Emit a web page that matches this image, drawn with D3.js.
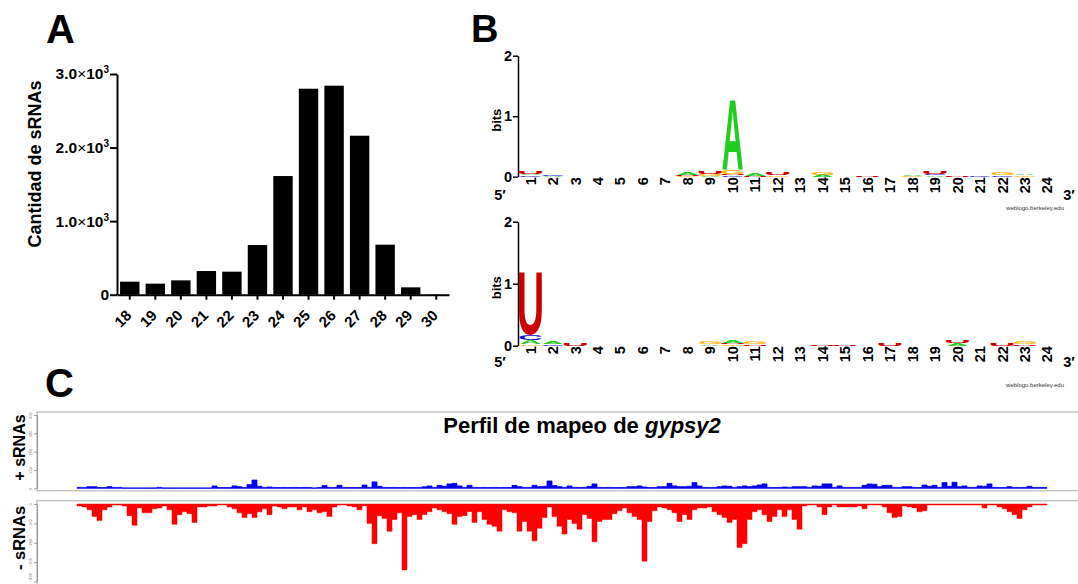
<!DOCTYPE html>
<html>
<head>
<meta charset="utf-8">
<script src="https://cdn.jsdelivr.net/npm/d3@7"></script>
<style>
  body { margin: 0; background: #fff; }
  svg { display: block; font-family: "Liberation Sans", Arial, sans-serif; }
</style>
</head>
<body>
<div id="chart"></div>
<script>
// ---- Panel A: read length distribution ----
const readLengths = ['18', '19', '20', '21', '22', '23', '24', '25', '26', '27', '28', '29', '30'];
const readCounts = [177, 150, 195, 322, 313, 675, 1613, 2800, 2841, 2161, 680, 100, 3];
const countTicks = [0, 1000, 2000, 3000];

// ---- Panel B: sequence logos (bits per base, positions 1..24) ----
const logoPositions = d3.range(1, 25);
const bases = ['A', 'C', 'G', 'U'];
const topBitsA = [0.03, 0.01, 0, 0, 0, 0, 0, 0.035, 0.01, 1.18, 0.035, 0, 0, 0.035, 0, 0, 0, 0.03, 0.02, 0, 0, 0, 0.03, 0];
const topBitsC = [0.02, 0.025, 0, 0, 0, 0, 0, 0, 0, 0.02, 0, 0, 0, 0, 0, 0, 0, 0, 0.02, 0, 0.02, 0.02, 0, 0];
const topBitsG = [0, 0, 0, 0, 0, 0, 0, 0.01, 0.035, 0.06, 0, 0.02, 0, 0.045, 0, 0, 0, 0.01, 0, 0, 0, 0.04, 0.02, 0];
const topBitsU = [0.05, 0, 0, 0, 0, 0, 0, 0.015, 0.04, 0.03, 0.015, 0.05, 0, 0, 0, 0.025, 0, 0, 0.05, 0.02, 0, 0, 0, 0];
const bottomBitsA = [0.06, 0.035, 0, 0, 0, 0, 0, 0, 0.02, 0.045, 0, 0, 0, 0, 0, 0, 0, 0, 0, 0.035, 0, 0, 0, 0];
const bottomBitsC = [0.08, 0.02, 0, 0, 0, 0, 0, 0, 0, 0, 0, 0, 0, 0, 0, 0, 0, 0, 0, 0, 0, 0, 0, 0];
const bottomBitsG = [0.03, 0, 0, 0, 0, 0, 0, 0, 0.045, 0.025, 0.04, 0, 0, 0, 0, 0, 0, 0, 0, 0, 0, 0, 0.045, 0];
const bottomBitsU = [1.05, 0, 0.035, 0, 0, 0, 0, 0, 0, 0.025, 0.03, 0, 0, 0.02, 0.02, 0, 0.045, 0, 0, 0.045, 0, 0.035, 0.02, 0];
const bitTicks = [0, 1, 2];

// ---- Panel C: mapping profile along gypsy2 (equal-width bins) ----
const plusCounts = [
  5, 5, 9, 9, 4, 4, 9, 5, 5, 2,
  2, 2, 2, 2, 2, 2, 5, 2, 2, 2,
  2, 2, 2, 2, 2, 2, 2, 13, 4, 4,
  4, 13, 9, 4, 20, 45, 11, 5, 7, 5,
  4, 5, 4, 5, 4, 5, 4, 2, 4, 15,
  5, 4, 16, 5, 4, 4, 4, 18, 5, 35,
  11, 5, 4, 5, 4, 5, 4, 4, 5, 8,
  13, 5, 16, 11, 24, 27, 13, 5, 16, 5,
  4, 5, 4, 5, 4, 5, 4, 16, 9, 5,
  5, 16, 9, 11, 40, 15, 9, 5, 13, 5,
  4, 5, 11, 24, 5, 4, 5, 4, 4, 5,
  9, 9, 13, 7, 4, 4, 9, 9, 27, 13,
  9, 9, 11, 31, 13, 5, 4, 5, 9, 13,
  11, 5, 9, 13, 9, 13, 18, 24, 5, 4,
  5, 7, 5, 9, 9, 9, 5, 13, 11, 24,
  24, 5, 13, 5, 4, 5, 5, 16, 24, 22,
  9, 16, 16, 5, 5, 9, 9, 5, 4, 18,
  11, 16, 5, 31, 11, 33, 9, 13, 5, 5,
  13, 11, 24, 5, 4, 5, 9, 5, 4, 5,
  11, 4, 4, 4
];
const minusCounts = [
  -10, -15, -30, -65, -85, -30, -15, -5, -5, -10,
  -60, -110, -20, -45, -45, -25, -20, -10, -30, -105,
  -55, -40, -50, -95, -15, -15, -10, -10, -5, -5,
  -15, -25, -45, -70, -50, -70, -40, -25, -55, -10,
  -15, -25, -15, -15, -30, -15, -40, -30, -45, -40,
  -65, -15, -5, -5, -10, -15, -30, -10, -100, -205,
  -60, -75, -140, -80, -45, -340, -65, -55, -80, -55,
  -40, -20, -30, -40, -50, -105, -65, -60, -40, -95,
  -40, -80, -105, -115, -140, -30, -40, -45, -140, -90,
  -140, -190, -125, -70, -15, -65, -115, -155, -80, -100,
  -130, -55, -75, -195, -90, -80, -80, -50, -35, -20,
  -45, -65, -80, -295, -90, -35, -15, -20, -30, -45,
  -90, -55, -80, -30, -20, -20, -15, -40, -55, -70,
  -95, -80, -225, -205, -80, -40, -30, -55, -90, -65,
  -30, -65, -30, -80, -130, -10, -5, -5, -15, -55,
  -15, -5, -15, -15, -15, -15, -10, -25, -5, -5,
  -5, -15, -45, -70, -65, -10, -15, -20, -40, -35,
  -5, -5, -5, -5, -5, -5, -5, -5, -5, -5,
  -5, -20, -5, -5, -15, -25, -40, -55, -75, -30,
  -15, -5, -5, -5
];
const plusTicks = [0, 100, 200, 300, 400];
const minusTicks = [0, -100, -200, -300, -400];

const baseColors = { A: '#22cc22', C: '#1515d0', G: '#ffb300', U: '#cc0000' };

const W = 1078, H = 584;
const svg = d3.select('#chart').append('svg')
    .attr('width', W)
    .attr('height', H);
svg.append('rect').attr('width', W).attr('height', H).attr('fill', '#fff');

// panel letters
svg.append('text').attr('x', 46).attr('y', 43).text('A')
    .attr('font-size', 40).attr('font-weight', 'bold');
svg.append('text').attr('x', 471).attr('y', 42).text('B')
    .attr('font-size', 38).attr('font-weight', 'bold');
svg.append('text').attr('x', 45).attr('y', 397).text('C')
    .attr('font-size', 40).attr('font-weight', 'bold');

// ================= Panel A =================
const xLen = d3.scaleBand()
    .domain(readLengths)
    .range([117, 449])
    .paddingInner(0.24)
    .paddingOuter(0.12);
const yLen = d3.scaleLinear().domain([0, 3000]).range([294.7, 74]);

const gA = svg.append('g');

gA.selectAll('rect.bar')
    .data(readCounts)
    .join('rect')
    .attr('class', 'bar')
    .attr('x', (d, i) => xLen(readLengths[i]))
    .attr('y', d => yLen(d))
    .attr('width', xLen.bandwidth())
    .attr('height', d => yLen(0) - yLen(d))
    .attr('fill', '#000');

const yAxA = gA.append('g')
    .attr('transform', 'translate(117,0)')
    .call(d3.axisLeft(yLen).tickValues(countTicks).tickSize(7).tickSizeOuter(0));
yAxA.selectAll('.domain, .tick line').attr('stroke', '#000').attr('stroke-width', 2);
yAxA.selectAll('.tick text').each(function (d) {
    const t = d3.select(this).text(null)
        .attr('x', -8)
        .attr('font-size', 15.5)
        .attr('font-weight', 'bold')
        .attr('fill', '#000')
        .attr('font-family', '"Liberation Sans", Arial, sans-serif');
    if (d === 0) {
        t.text('0');
        return;
    }
    t.append('tspan').text(d3.format('.1f')(d / 1000));
    t.append('tspan').text('\u00d7').attr('font-weight', 'normal');
    t.append('tspan').text('10');
    t.append('tspan').text('3').attr('font-size', 10).attr('dy', '-0.6em');
});

const xAxA = gA.append('g')
    .attr('transform', 'translate(0,294.7)')
    .call(d3.axisBottom(xLen).tickSize(5).tickSizeOuter(0));
xAxA.selectAll('.domain, .tick line').attr('stroke', '#000').attr('stroke-width', 2);
xAxA.selectAll('.tick text')
    .attr('x', 0)
    .attr('y', 0)
    .attr('dy', '0.35em')
    .attr('transform', 'translate(-1,18) rotate(-45)')
    .attr('text-anchor', 'end')
    .attr('font-size', 15)
    .attr('font-weight', 'bold')
    .attr('fill', '#000')
    .attr('font-family', '"Liberation Sans", Arial, sans-serif');

gA.append('text')
    .attr('transform', 'translate(41,164) rotate(-90)')
    .attr('text-anchor', 'middle')
    .attr('font-size', 18)
    .attr('font-weight', 'bold')
    .text('Cantidad de sRNAs');

// ================= Panel B =================
// ink boxes of the bold sans glyphs, in em: [xMin, xMax, yMin, yMax]
const glyphBox = {
    A: [0.0, 0.722, 0.0, 0.716],
    C: [0.045, 0.68, -0.012, 0.728],
    G: [0.045, 0.72, -0.012, 0.728],
    U: [0.073, 0.648, -0.012, 0.716]
};

function drawGlyph(g, base, x0, w, yTop, yBot) {
    const fs = 100;
    const [x1, x2, y1, y2] = glyphBox[base];
    const sx = w / ((x2 - x1) * fs);
    const sy = (yBot - yTop) / ((y2 - y1) * fs);
    g.append('text')
        .text(base)
        .attr('font-size', fs)
        .attr('font-weight', 'bold')
        .attr('fill', baseColors[base])
        .attr('transform', `translate(${x0 - x1 * fs * sx},${yBot + y1 * fs * sy}) scale(${sx},${sy})`);
}

function drawLogo(bits, yZero, yTwo, primeY, webY) {
    const g = svg.append('g');
    const xPos = d3.scaleBand().domain(logoPositions).range([518.8, 1058.8]).padding(0.03);
    const yBits = d3.scaleLinear().domain([0, 2]).range([yZero, yTwo]);

    const ax = g.append('g')
        .attr('transform', 'translate(518,0)')
        .call(d3.axisLeft(yBits).tickValues(bitTicks).tickFormat(d3.format('d')).tickSize(5).tickSizeOuter(0));
    ax.selectAll('.domain, .tick line').attr('stroke', '#000').attr('stroke-width', 1.5);
    ax.selectAll('.tick text')
        .attr('x', -6)
        .attr('font-size', 14.5)
        .attr('font-weight', 'bold')
        .attr('fill', '#000')
        .attr('font-family', '"Liberation Sans", Arial, sans-serif');

    g.append('text')
        .attr('transform', `translate(501,${yBits(1) + 4}) rotate(-90)`)
        .attr('text-anchor', 'middle')
        .attr('font-size', 13)
        .attr('font-weight', 'bold')
        .text('bits');

    const glyphs = g.append('g');
    logoPositions.forEach((p, i) => {
        const stack = bases
            .map(b => ({ b, v: bits[b][i] }))
            .filter(s => s.v > 0)
            .sort((a, b) => a.v - b.v);
        let acc = 0;
        stack.forEach(s => {
            const yb = yBits(acc);
            const yt = yBits(acc + s.v);
            acc += s.v;
            drawGlyph(glyphs, s.b, xPos(p), xPos.bandwidth(), yt, yb);
        });

        g.append('text')
            .attr('transform', `translate(${xPos(p) + xPos.bandwidth() / 2},${yZero + 0.5}) rotate(-90)`)
            .attr('dy', '0.36em')
            .attr('text-anchor', 'end')
            .attr('font-size', 14.5)
            .attr('font-weight', 'bold')
            .text(p);
    });

    g.append('text').attr('x', 500).attr('y', primeY).attr('text-anchor', 'middle')
        .attr('font-size', 14.5).attr('font-weight', 'bold').text('5\u2032');
    g.append('text').attr('x', 1069).attr('y', primeY).attr('text-anchor', 'middle')
        .attr('font-size', 14.5).attr('font-weight', 'bold').text('3\u2032');
    g.append('text').attr('x', 1064).attr('y', webY).attr('text-anchor', 'end')
        .attr('font-size', 6).attr('fill', '#333').text('weblogo.berkeley.edu');
}

drawLogo({ A: topBitsA, C: topBitsC, G: topBitsG, U: topBitsU }, 176.7, 55.7, 200, 210);
drawLogo({ A: bottomBitsA, C: bottomBitsC, G: bottomBitsG, U: bottomBitsU }, 345.7, 221.7, 367, 387);

// ================= Panel C =================
const gC = svg.append('g');
const xProf = d3.scaleLinear().domain([0, plusCounts.length]).range([77, 1047]);
const yPlus = d3.scaleLinear().domain([0, 400]).range([488.3, 415]);
const yMinus = d3.scaleLinear().domain([0, -400]).range([504, 581.5]);

// track frames
gC.append('rect').attr('x', 37).attr('y', 412).attr('width', 1060).attr('height', 78.7)
    .attr('fill', 'none').attr('stroke', '#c4c4c4').attr('stroke-width', 1.5);
gC.append('rect').attr('x', 37).attr('y', 500.7).attr('width', 1060).attr('height', 120)
    .attr('fill', 'none').attr('stroke', '#c4c4c4').attr('stroke-width', 1.5);

function trackAxis(scale, ticks) {
    const ax = gC.append('g')
        .attr('transform', 'translate(37,0)')
        .call(d3.axisLeft(scale).tickValues(ticks).tickSize(3).tickSizeOuter(0));
    ax.selectAll('.domain, .tick line').attr('stroke', '#888').attr('stroke-width', 0.8);
    ax.selectAll('.tick text')
        .attr('x', 0)
        .attr('y', 0)
        .attr('dy', 0)
        .attr('transform', 'translate(-5,0) rotate(-90)')
        .attr('text-anchor', d => (d === -400 ? 'start' : 'middle'))
        .attr('font-size', 4)
        .attr('fill', '#777');
}
trackAxis(yPlus, plusTicks);
trackAxis(yMinus, minusTicks);

const plusPts = plusCounts.map((v, i) => ({ i, v }));
plusPts.push({ i: plusCounts.length, v: plusCounts[plusCounts.length - 1] });
const minusPts = minusCounts.map((v, i) => ({ i, v }));
minusPts.push({ i: minusCounts.length, v: minusCounts[minusCounts.length - 1] });

gC.append('path')
    .datum(plusPts)
    .attr('d', d3.area().curve(d3.curveStepAfter)
        .x(d => xProf(d.i)).y0(yPlus(0)).y1(d => yPlus(d.v)))
    .attr('fill', '#0000ee')
    .attr('stroke', '#0000ee')
    .attr('stroke-width', 0.8);

gC.append('path')
    .datum(minusPts)
    .attr('d', d3.area().curve(d3.curveStepAfter)
        .x(d => xProf(d.i)).y0(yMinus(0)).y1(d => yMinus(d.v)))
    .attr('fill', '#ff0000')
    .attr('stroke', '#ff0000')
    .attr('stroke-width', 0.5);

const title = gC.append('text')
    .attr('x', 582)
    .attr('y', 432.7)
    .attr('text-anchor', 'middle')
    .attr('font-size', 22)
    .attr('font-weight', 'bold');
title.append('tspan').text('Perfil de mapeo de ');
title.append('tspan').attr('font-style', 'italic').text('gypsy2');

gC.append('text')
    .attr('transform', 'translate(25,447.5) rotate(-90)')
    .attr('text-anchor', 'middle')
    .attr('font-size', 16)
    .attr('font-weight', 'bold')
    .text('+ sRNAs');
gC.append('text')
    .attr('transform', 'translate(25,538) rotate(-90)')
    .attr('text-anchor', 'middle')
    .attr('font-size', 16.5)
    .attr('font-weight', 'bold')
    .text('- sRNAs');
</script>
</body>
</html>
